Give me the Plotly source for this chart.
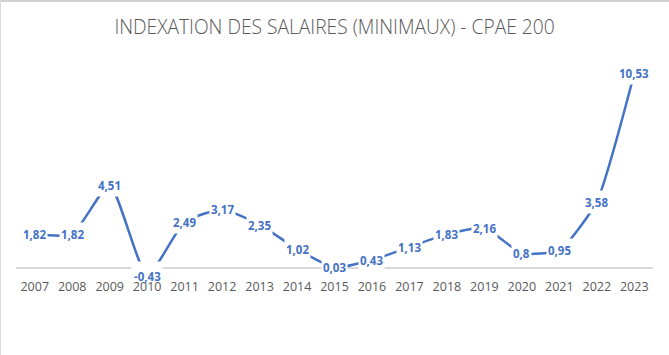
import plotly.graph_objects as go

years = [2007, 2008, 2009, 2010, 2011, 2012, 2013, 2014, 2015,
         2016, 2017, 2018, 2019, 2020, 2021, 2022, 2023]
indexation = [1.82, 1.82, 4.51, -0.43, 2.49, 3.17, 2.35, 1.02, 0.03,
              0.43, 1.13, 1.83, 2.16, 0.8, 0.95, 3.58, 10.53]
labels = [str(v).replace('.', ',') for v in indexation]

BLUE = "#4472C4"
GREY = "#595959"

W, H = 669, 355
ML, MR, MT, MB = 16, 16, 55, 78

fig = go.Figure()
fig.add_trace(go.Scatter(
    x=years, y=indexation, mode="lines",
    line=dict(color=BLUE, width=2.5, shape="spline", smoothing=0.5),
    hoverinfo="skip", showlegend=False, cliponaxis=False,
))

for x, y, t in zip(years, indexation, labels):
    if y < 0:
        # white mask that stops at the bottom of the text, so the year label stays visible
        fig.add_annotation(
            x=x, y=y, xref="x", yref="y", text=" ",
            showarrow=False, bgcolor="white", borderpad=0, width=30, height=18,
            xanchor="center", yanchor="bottom", yshift=-5,
            font=dict(family="Open Sans", size=8, color=BLUE),
        )
        fig.add_annotation(
            x=x, y=y, xref="x", yref="y", text="<b>%s</b>" % t,
            showarrow=False, xanchor="center", yanchor="middle", yshift=-1,
            font=dict(family="Open Sans", size=11.5, color=BLUE),
        )
    else:
        fig.add_annotation(
            x=x, y=y, xref="x", yref="y", text="<b>%s</b>" % t,
            showarrow=False, bgcolor="white", borderpad=1, height=20,
            font=dict(family="Open Sans", size=11.5, color=BLUE),
            xanchor="center", yanchor="middle",
        )

pw = W - ML - MR
ph = H - MT - MB
fig.add_shape(type="line", xref="paper", yref="paper",
              x0=-ML / pw, x1=(W - ML) / pw, y0=(ph + MT - 1) / ph, y1=(ph + MT - 1) / ph,
              line=dict(color="#D0D0D0", width=2))
fig.add_shape(type="line", xref="paper", yref="paper",
              x0=(-ML + 0.5) / pw, x1=(-ML + 0.5) / pw, y0=-MB / ph, y1=(ph + MT) / ph,
              line=dict(color="#D9D9D9", width=1))

fig.update_layout(
    width=W, height=H,
    margin=dict(l=ML, r=MR, t=MT, b=MB, pad=0),
    paper_bgcolor="white", plot_bgcolor="white",
    title=dict(text="INDEXATION DES SALAIRES (MINIMAUX) - CPAE 200",
               x=0.5, xref="paper", y=1 - 27 / H, yref="container",
               xanchor="center", yanchor="middle",
               font=dict(family="Open Sans", size=19.2, color=GREY, weight=300)),
    xaxis=dict(range=[2006.5, 2023.5], tickmode="array", tickvals=years,
               ticktext=[str(y) for y in years], showgrid=False, zeroline=False,
               showline=False, ticks="",
               tickfont=dict(family="Open Sans", size=12.5, color=GREY)),
    yaxis=dict(range=[-0.49, 11.53], showgrid=False, showticklabels=False,
               zeroline=True, zerolinecolor="#D9D9D9", zerolinewidth=1.5,
               showline=False, ticks=""),
)

fig.write_html("out.html", config={"displayModeBar": False},
               post_script="document.body.style.margin='0';document.body.style.overflow='hidden';")
